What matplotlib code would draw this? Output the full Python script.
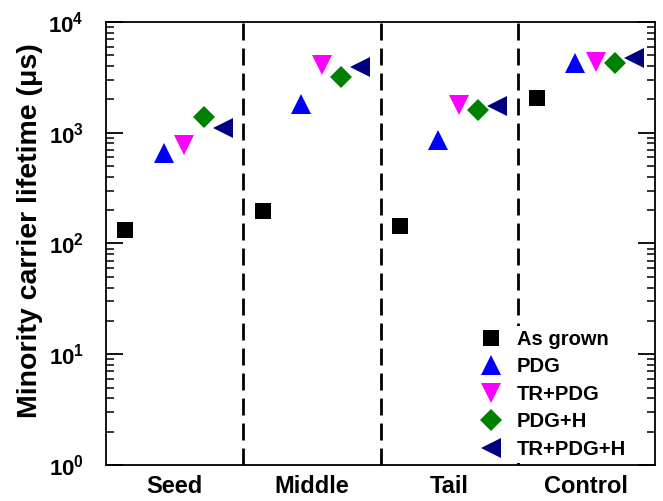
import matplotlib
matplotlib.use("Agg")
import matplotlib.pyplot as plt
from matplotlib.ticker import LogLocator, NullFormatter, FixedLocator

plt.rcParams['font.family'] = ['Liberation Sans', 'DejaVu Sans']
plt.rcParams['font.weight'] = 'bold'
plt.rcParams['mathtext.fontset'] = 'custom'
plt.rcParams['mathtext.rm'] = 'Liberation Sans:bold'
plt.rcParams['mathtext.bf'] = 'Liberation Sans:bold'

categories = ["Seed", "Middle", "Tail", "Control"]
series_names = ["As grown", "PDG", "TR+PDG", "PDG+H", "TR+PDG+H"]
as_grown = [133, 196, 144, 2050]
pdg = [656, 1820, 860, 4260]
tr_pdg = [775, 4100, 1780, 4360]
pdg_h = [1380, 3170, 1620, 4260]
tr_pdg_h = [1100, 3900, 1740, 4700]
ytick_labels = [r"$\mathbf{10^{0}}$", r"$\mathbf{10^{1}}$", r"$\mathbf{10^{2}}$",
                r"$\mathbf{10^{3}}$", r"$\mathbf{10^{4}}$"]

series = [as_grown, pdg, tr_pdg, pdg_h, tr_pdg_h]
offsets = [0.14, 0.42, 0.57, 0.71, 0.85]
markers = ['s', '^', 'v', 'D', '<']
sizes = [11.5, 15, 15, 11.7, 15]
colors = ['#000000', '#0000FF', '#FF00FF', '#008000', '#000080']

fig = plt.figure(figsize=(6.63, 5.01), dpi=100)
ax = fig.add_axes([0.160, 0.072, 0.828, 0.884])

for vals, off, m, s, c, name in zip(series, offsets, markers, sizes, colors, series_names):
    xs = [i + off for i in range(len(categories))]
    ax.plot(xs, vals, linestyle='none', marker=m, markersize=s, color=c,
            markeredgewidth=0, label=name)

for d in range(1, len(categories)):
    ax.axvline(d, color='black', lw=2.0, dashes=(6.1, 2.9), zorder=1)

ax.set_yscale('log')
ax.set_ylim(1, 1e4)
ax.set_xlim(0, len(categories))

ax.yaxis.set_major_locator(FixedLocator([1, 10, 100, 1000, 10000]))
ax.set_yticklabels(ytick_labels)
ax.yaxis.set_minor_locator(LogLocator(base=10, subs=range(2, 10)))
ax.yaxis.set_minor_formatter(NullFormatter())
ax.tick_params(axis='y', which='major', direction='in', length=12, width=1.3,
               right=True, labelsize=16, pad=16)
ax.tick_params(axis='y', which='minor', direction='in', length=6, width=1.1, right=True)

ax.set_xticks([d for d in range(1, len(categories))])
ax.set_xticklabels([])
ax.set_xticks([i + 0.5 for i in range(len(categories))], minor=True)
ax.set_xticklabels(categories, minor=True, fontsize=17, fontweight='bold')
ax.tick_params(axis='x', which='major', direction='in', length=3, top=False)
ax.tick_params(axis='x', which='minor', length=0, pad=7)

for sp in ax.spines.values():
    sp.set_linewidth(1.3)

ax.set_ylabel("Minority carrier lifetime (μs)", fontsize=20.5, fontweight='bold')
ax.yaxis.set_label_coords(-0.115, 0.53)

leg = ax.legend(loc='lower right', bbox_to_anchor=(0.955, 0.005), frameon=True,
                fontsize=14.5, handletextpad=0.55, labelspacing=0.42,
                handlelength=1.5, borderaxespad=0.0, borderpad=0.2,
                fancybox=False, framealpha=1.0)
leg.get_frame().set_edgecolor('none')
leg.get_frame().set_facecolor('white')
leg.set_zorder(5)

fig.savefig("out.png", dpi=100)
